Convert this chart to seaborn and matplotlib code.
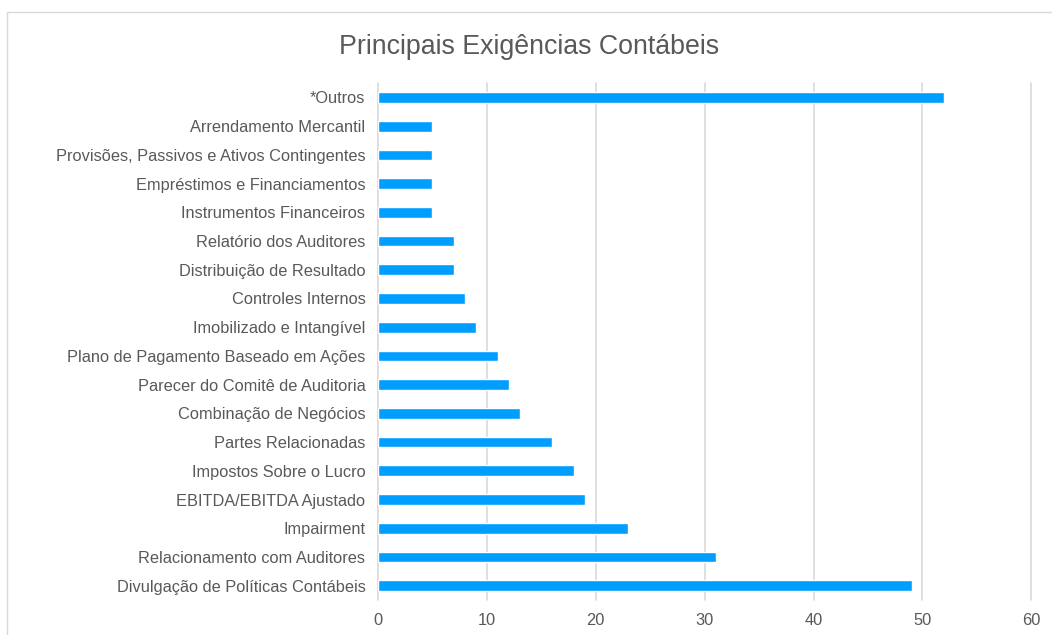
import matplotlib
matplotlib.use('Agg')
import matplotlib.pyplot as plt
import seaborn as sns
import pandas as pd
from matplotlib.patches import Rectangle

categories = [
    '*Outros', 'Arrendamento Mercantil', 'Provisões, Passivos e Ativos Contingentes',
    'Empréstimos e Financiamentos', 'Instrumentos Financeiros', 'Relatório dos Auditores',
    'Distribuição de Resultado', 'Controles Internos', 'Imobilizado e Intangível',
    'Plano de Pagamento Baseado em Ações', 'Parecer do Comitê de Auditoria',
    'Combinação de Negócios', 'Partes Relacionadas', 'Impostos Sobre o Lucro',
    'EBITDA/EBITDA Ajustado', 'Impairment', 'Relacionamento com Auditores',
    'Divulgação de Políticas Contábeis',
]
counts = [52, 5, 5, 5, 5, 7, 7, 8, 9, 11, 12, 13, 16, 18, 19, 23, 31, 49]
x_ticks = [0, 10, 20, 30, 40, 50, 60]

sns.set_theme(style='white')
plt.rcParams['font.family'] = ['Liberation Sans', 'DejaVu Sans']

df = pd.DataFrame({'Categoria': categories, 'Quantidade': counts})

fig = plt.figure(figsize=(10.52, 6.35), dpi=100)
ax = fig.add_axes([0.3593, 0.0551, 0.6210, 0.8140])

# light border of the chart area
fig.patches.append(Rectangle((7 / 1052, -0.05), 1.1, 1 - 12 / 635 + 0.05,
                             transform=fig.transFigure, fill=False,
                             edgecolor='#D9D9D9', linewidth=1.0))

sns.barplot(data=df, x='Quantidade', y='Categoria', order=categories,
            color='#009EFF', saturation=1, width=0.37, ax=ax, zorder=3)

ax.set_xlim(0, 60)
ax.set_xticks(x_ticks)
ax.grid(True, axis='x', color='#D9D9D9', linewidth=1.2, zorder=0)
ax.set_axisbelow(True)
for s in ax.spines.values():
    s.set_visible(False)
ax.set_xlabel('')
ax.set_ylabel('')
ax.tick_params(axis='both', length=0, labelsize=11.8, labelcolor='#595959', pad=9)
ax.tick_params(axis='x', pad=9)
for gl in ax.get_xgridlines():
    gl.set_clip_on(False)

fig.text(0.5 + 3 / 1052, 1 - 47 / 635, 'Principais Exigências Contábeis',
         ha='center', va='center', fontsize=19.3, color='#595959')

fig.savefig('out.png', dpi=100)
